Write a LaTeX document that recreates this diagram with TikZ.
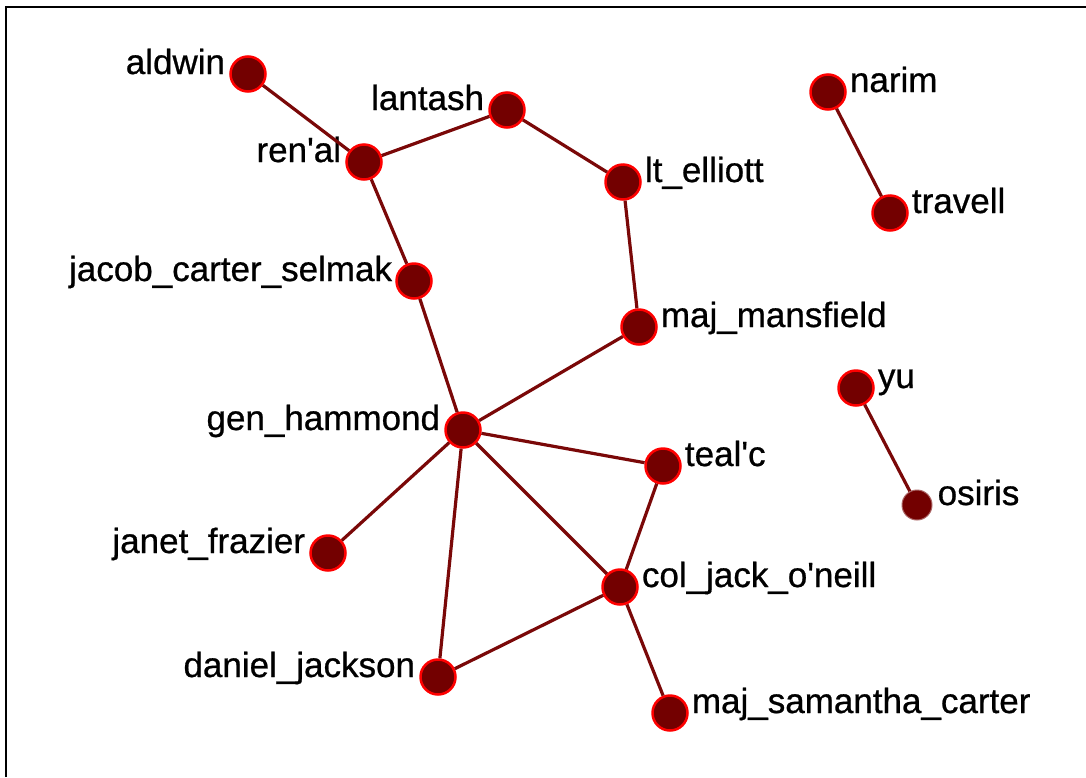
\documentclass[tikz,border=0pt]{standalone}
\usepackage{fontspec}
\setmainfont{Liberation Sans}
\newfontfamily\whofont{Liberation Sans}[BoldFont={Liberation Sans}, BoldFeatures={FakeBold=0.7}]
\definecolor{nodefill}{RGB}{115,0,0}
\definecolor{tiecol}{RGB}{122,8,8}
\tikzset{
  actor/.style={circle, fill=nodefill, draw=red, line width=2.5pt, minimum size=35pt, inner sep=0pt},
  quietactor/.style={circle, fill=nodefill, draw=nodefill!60!white, line width=1pt, minimum size=30pt, inner sep=0pt},
  who/.style={inner sep=0pt, font=\whofont\bfseries\fontsize{35}{40}\selectfont},
  tie/.style={draw=tiecol, line width=3.2pt}
}

\begin{document}
\begin{tikzpicture} [x=1pt,y=-1pt]

%\draw [step=100, dotted] (0,0) grid (1086,777);
\useasboundingbox (0,0) rectangle (1086,777);
\draw [line width=2.5pt] (6,777) -- (6,7) -- (1086,7);

\node [actor] (aldwin) at (248,74) {};
\node [actor] (renal) at (364,162) {};
\node [actor] (lantash) at (507,110) {};
\node [actor] (elliott) at (623,182) {};
\node [actor] (jacob) at (414,281) {};
\node [actor] (mansfield) at (639,327) {};
\node [actor] (hammond) at (463,430) {};
\node [actor] (tealc) at (663,466) {};
\node [actor] (janet) at (328,553) {};
\node [actor] (oneill) at (620,587) {};
\node [actor] (daniel) at (438,677) {};
\node [actor] (samantha) at (670,713) {};
\node [actor] (narim) at (828,92) {};
\node [actor] (travell) at (890,213) {};
\node [actor] (yu) at (856,388) {};
\node [quietactor] (osiris) at (917,505) {};

\node [who, anchor=base east] (aldwin-t) at ([xshift=-4pt]aldwin.west) {aldwin};
\node [who, anchor=base east] (renal-t) at ([xshift=-4pt]renal.west) {ren\textquotesingle al};
\node [who, anchor=base east] (lantash-t) at ([xshift=-4pt]lantash.west) {lantash};
\node [who, anchor=base west] (elliott-t) at ([xshift=3pt]elliott.east) {lt\_elliott};
\node [who, anchor=base east] (jacob-t) at ([xshift=-3pt]jacob.west) {jacob\_carter\_selmak};
\node [who, anchor=base west] (mansfield-t) at ([xshift=3pt]mansfield.east) {maj\_mansfield};
\node [who, anchor=base east] (hammond-t) at ([xshift=-4pt]hammond.west) {gen\_hammond};
\node [who, anchor=base west] (tealc-t) at ([xshift=3pt]tealc.east) {teal\textquotesingle c};
\node [who, anchor=base east] (janet-t) at ([xshift=-4pt]janet.west) {janet\_frazier};
\node [who, anchor=base west] (oneill-t) at ([xshift=3pt]oneill.east) {col\_jack\_o\textquotesingle neill};
\node [who, anchor=base east] (daniel-t) at ([xshift=-4pt]daniel.west) {daniel\_jackson};
\node [who, anchor=base west] (samantha-t) at ([xshift=3pt]samantha.east) {maj\_samantha\_carter};
\node [who, anchor=base west] (narim-t) at ([xshift=3pt]narim.east) {narim};
\node [who, anchor=base west] (travell-t) at ([xshift=3pt]travell.east) {travell};
\node [who, anchor=base west] (yu-t) at ([xshift=3pt]yu.east) {yu};
\node [who, anchor=base west] (osiris-t) at ([xshift=5pt]osiris.east) {osiris};

\draw [tie] (aldwin) -- (renal);
\draw [tie] (renal) -- (lantash);
\draw [tie] (lantash) -- (elliott);
\draw [tie] (elliott) -- (mansfield);
\draw [tie] (renal) -- (jacob);
\draw [tie] (jacob) -- (hammond);
\draw [tie] (mansfield) -- (hammond);
\draw [tie] (hammond) -- (tealc);
\draw [tie] (hammond) -- (janet);
\draw [tie] (hammond) -- (oneill);
\draw [tie] (hammond) -- (daniel);
\draw [tie] (tealc) -- (oneill);
\draw [tie] (oneill) -- (daniel);
\draw [tie] (oneill) -- (samantha);
\draw [tie] (narim) -- (travell);
\draw [tie] (yu) -- (osiris);

\end{tikzpicture}
\end{document}
